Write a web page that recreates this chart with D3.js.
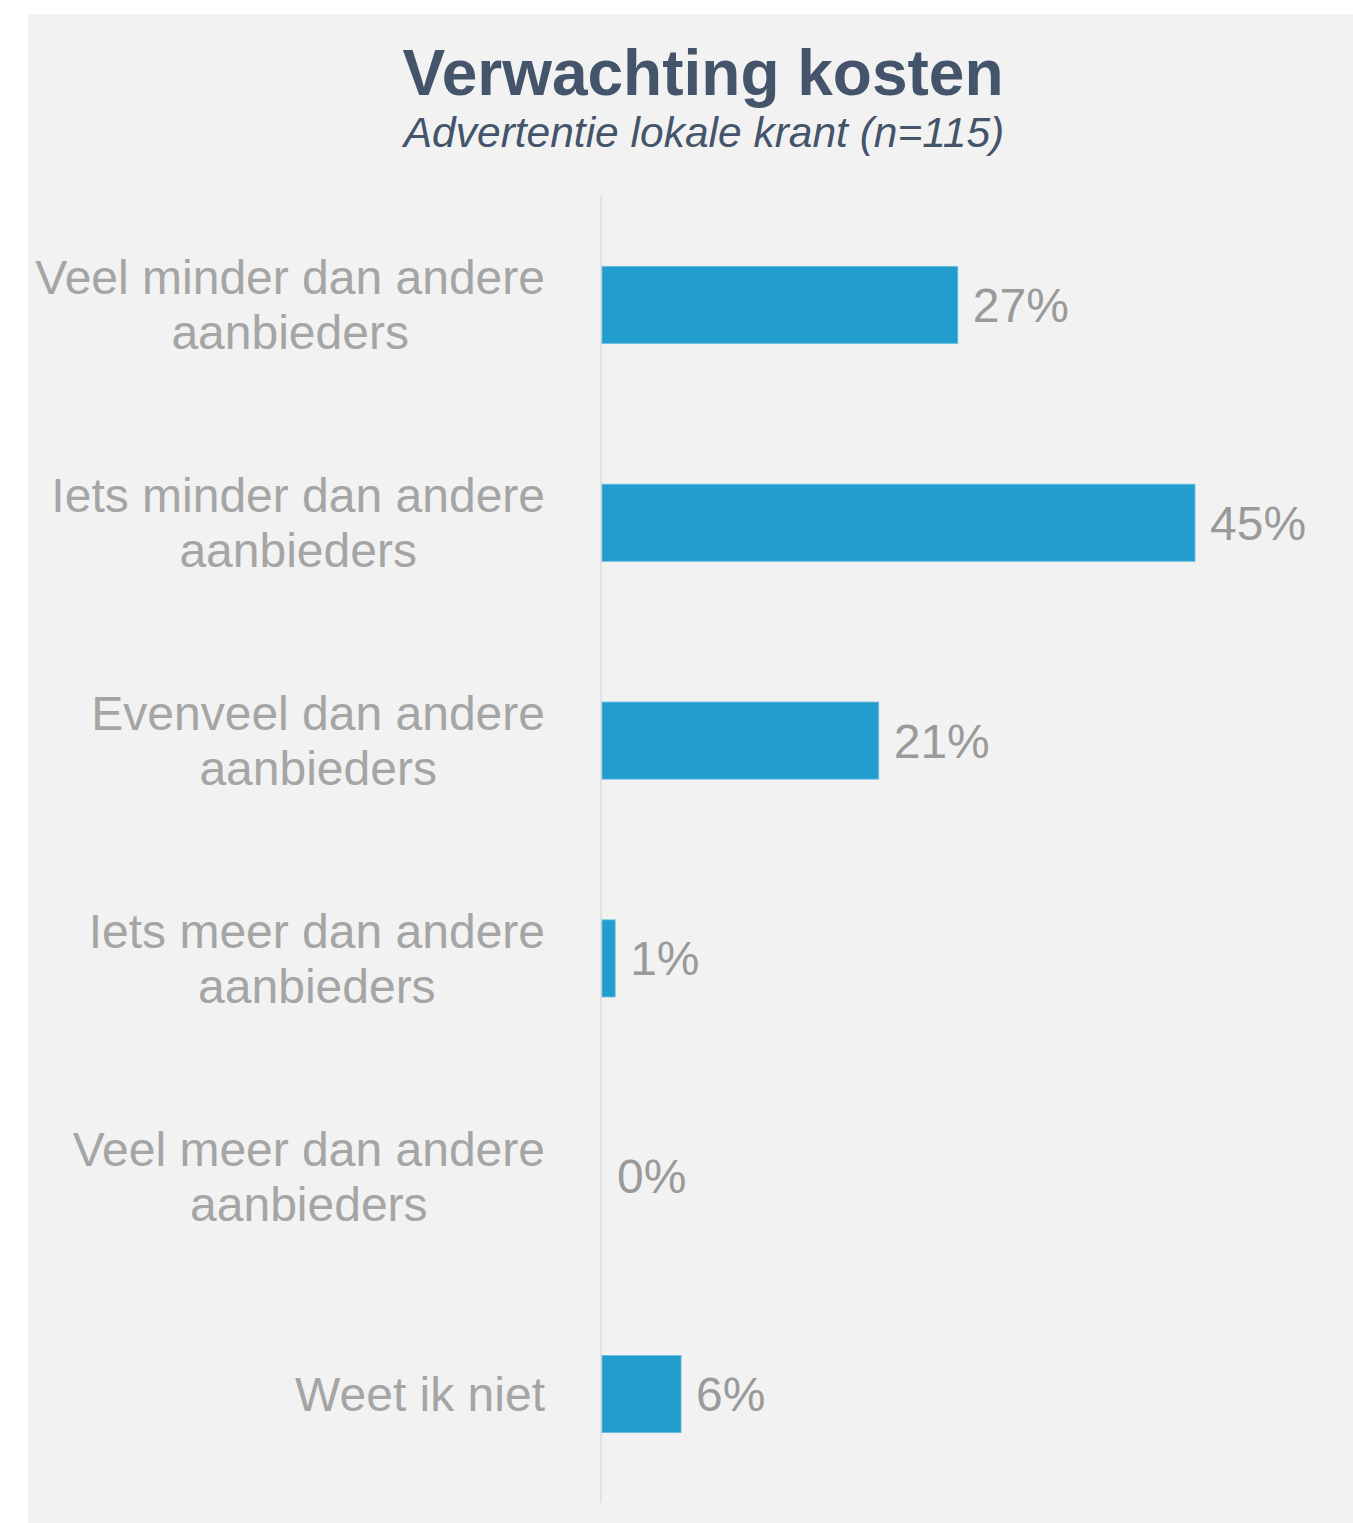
<!DOCTYPE html>
<html>
<head>
<meta charset="utf-8">
<script src="https://cdn.jsdelivr.net/npm/d3@7"></script>
<style>
  html, body { margin: 0; padding: 0; background: #ffffff; }
  svg { display: block; }
</style>
</head>
<body>
<script>
// Survey: expected advertising cost compared with other providers
const titleText = "Verwachting kosten";
const subtitleText = "Advertentie lokale krant (n=115)";
const categories = [
  ["Veel minder dan andere", "aanbieders"],
  ["Iets minder dan andere", "aanbieders"],
  ["Evenveel dan andere", "aanbieders"],
  ["Iets meer dan andere", "aanbieders"],
  ["Veel meer dan andere", "aanbieders"],
  ["Weet ik niet"]
];
const values = [27, 45, 21, 1, 0, 6];

const W = 1353, H = 1523;
const svg = d3.select("body").append("svg").attr("width", W).attr("height", H);

// panel background
svg.append("rect").attr("x", 28).attr("y", 14).attr("width", W - 28).attr("height", H - 14)
  .attr("fill", "#f2f2f2");

const font = "'Liberation Sans', Arial, Helvetica, sans-serif";

svg.append("text").attr("x", 703).attr("y", 95).attr("text-anchor", "middle")
  .attr("font-family", font).attr("font-weight", "bold").attr("font-size", 64)
  .attr("fill", "#44546a").text(titleText);
svg.append("text").attr("x", 704).attr("y", 147).attr("text-anchor", "middle")
  .attr("font-family", font).attr("font-style", "italic").attr("font-size", 42.5)
  .attr("fill", "#44546a").text(subtitleText);

const idx = d3.range(categories.length);
const y = d3.scaleBand().domain(idx).range([196, 1503]).paddingInner(0.646).paddingOuter(0.323);
const x = d3.scaleLinear().domain([0, 45]).range([602, 1195]);

// vertical category axis line
svg.append("line").attr("x1", 601).attr("x2", 601).attr("y1", 196).attr("y2", 1503)
  .attr("stroke", "#e2e2e2").attr("stroke-width", 2);

// bars
svg.append("g").selectAll("rect").data(idx).join("rect")
  .attr("x", x(0))
  .attr("y", i => y(i))
  .attr("width", i => x(values[i]) - x(0))
  .attr("height", y.bandwidth())
  .attr("fill", "#239dcd")
  .attr("stroke", i => values[i] > 0 ? "#6cbde2" : "none")
  .attr("stroke-width", 0.8);

// value labels
svg.append("g").selectAll("text").data(idx).join("text")
  .attr("x", i => x(values[i]) + 15)
  .attr("y", i => y(i) + y.bandwidth() / 2 + 17)
  .attr("font-family", font).attr("font-size", 48).attr("fill", "#9a9a9a")
  .text(i => values[i] + "%");

// category labels: lines centred on each other, block right-aligned to the axis
const lineH = 55;
const labelRight = 545;
const cat = svg.append("g").selectAll("g").data(idx).join("g");
cat.each(function (i) {
  const lines = categories[i];
  const g = d3.select(this);
  const cy = y(i) + y.bandwidth() / 2;
  const firstBase = cy + 17 - (lines.length - 1) * lineH / 2;
  const texts = lines.map((ln, k) => g.append("text")
    .attr("y", firstBase + k * lineH)
    .attr("font-family", font).attr("font-size", 48).attr("fill", "#a5a5a5")
    .attr("text-anchor", "middle").text(ln));
  const widths = texts.map(t => t.node().getComputedTextLength());
  const maxW = d3.max(widths);
  texts.forEach(t => t.attr("x", labelRight - maxW / 2));
});
</script>
</body>
</html>
